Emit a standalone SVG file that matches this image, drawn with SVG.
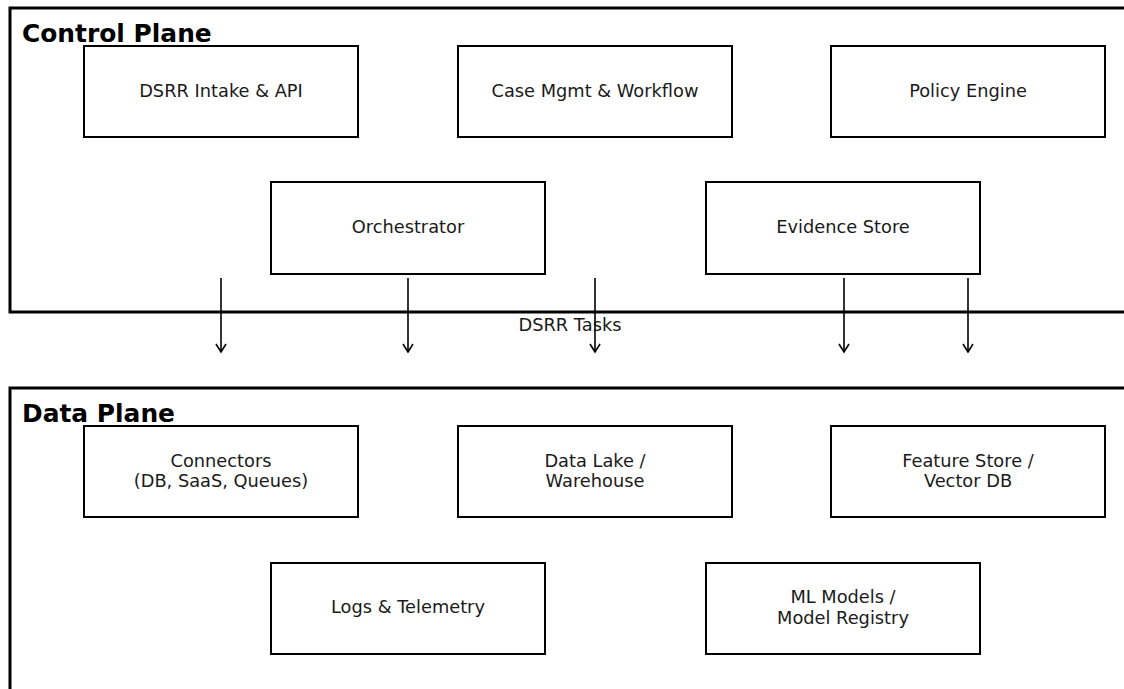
<svg xmlns="http://www.w3.org/2000/svg" width="1124" height="689" viewBox="0 0 1124 689">
<style>
.plane{fill:none;stroke:#000;stroke-width:3}
.box{fill:#fff;stroke:#000;stroke-width:2}
.t{font-family:"DejaVu Sans",sans-serif;font-size:17.8px;fill:#1a1a1a;text-anchor:middle}
.title{font-family:"DejaVu Sans",sans-serif;font-size:24.9px;font-weight:bold;fill:#000}
.arr{stroke:#000;stroke-width:1.6;fill:none}
</style>
<defs>
<marker id="ah" markerWidth="12" markerHeight="12" refX="10" refY="6" orient="auto" markerUnits="userSpaceOnUse" viewBox="0 0 12 12">
<path d="M2,1 L10,6 L2,11" fill="none" stroke="#000" stroke-width="1.6"/>
</marker>
</defs>
<rect width="1124" height="689" fill="#fff"/>
<g id="control-plane">
<rect class="plane" x="10" y="8" width="1130" height="304"/>
<text class="title" x="22" y="42">Control Plane</text>
</g>
<g id="data-plane">
<rect class="plane" x="10" y="388" width="1130" height="320"/>
<text class="title" x="22" y="422">Data Plane</text>
</g>
<g id="dsrr-intake"><rect class="box" x="84" y="46" width="274" height="91"/><text class="t" x="221" y="97">DSRR Intake &amp; API</text></g>
<g id="case-mgmt"><rect class="box" x="458" y="46" width="274" height="91"/><text class="t" x="595" y="97">Case Mgmt &amp; Workflow</text></g>
<g id="policy-engine"><rect class="box" x="831" y="46" width="274" height="91"/><text class="t" x="968" y="97">Policy Engine</text></g>
<g id="orchestrator"><rect class="box" x="271" y="182" width="274" height="92"/><text class="t" x="408" y="233">Orchestrator</text></g>
<g id="evidence-store"><rect class="box" x="706" y="182" width="274" height="92"/><text class="t" x="843" y="233">Evidence Store</text></g>
<g id="connectors-node"><rect class="box" x="84" y="426" width="274" height="91"/><text class="t" x="221" y="467">Connectors</text><text class="t" x="221" y="487">(DB, SaaS, Queues)</text></g>
<g id="data-lake"><rect class="box" x="458" y="426" width="274" height="91"/><text class="t" x="595" y="467">Data Lake /</text><text class="t" x="595" y="487">Warehouse</text></g>
<g id="feature-store"><rect class="box" x="831" y="426" width="274" height="91"/><text class="t" x="968" y="467">Feature Store /</text><text class="t" x="968" y="487">Vector DB</text></g>
<g id="logs"><rect class="box" x="271" y="563" width="274" height="91"/><text class="t" x="408" y="613">Logs &amp; Telemetry</text></g>
<g id="ml-models"><rect class="box" x="706" y="563" width="274" height="91"/><text class="t" x="843" y="603">ML Models /</text><text class="t" x="843" y="624">Model Registry</text></g>
<g id="connectors">
<line class="arr" x1="221" y1="278" x2="221" y2="352" marker-end="url(#ah)"/>
<line class="arr" x1="408" y1="278" x2="408" y2="352" marker-end="url(#ah)"/>
<line class="arr" x1="595" y1="278" x2="595" y2="352" marker-end="url(#ah)"/>
<line class="arr" x1="844" y1="278" x2="844" y2="352" marker-end="url(#ah)"/>
<line class="arr" x1="968" y1="278" x2="968" y2="352" marker-end="url(#ah)"/>
<text class="t" x="570" y="331">DSRR Tasks</text>
</g>
</svg>
